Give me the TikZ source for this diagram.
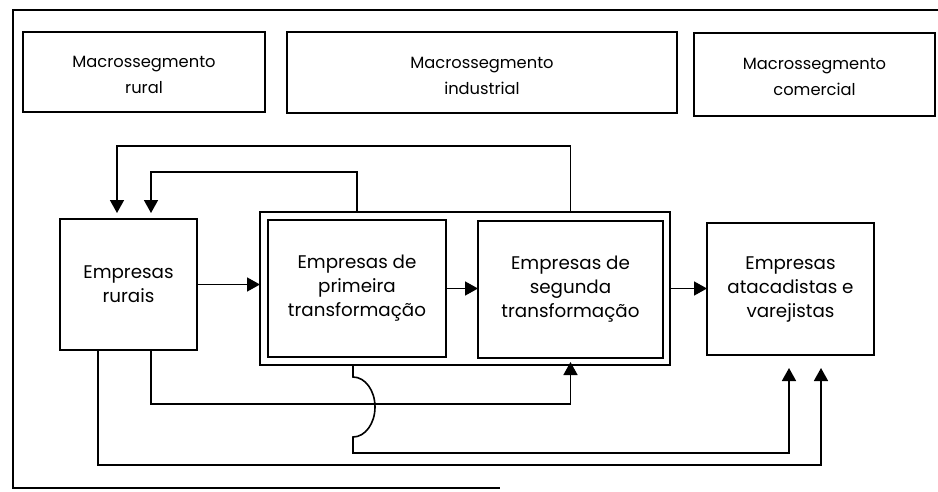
\documentclass[tikz,border=0pt]{standalone}
\usepackage{fontspec}
\setmainfont{Poppins}
\usetikzlibrary{arrows.meta}
\tikzset{
  topbox/.style={draw, line width=1.6pt, inner sep=0pt, outer sep=0pt},
  toptext/.style={align=center, font=\fontsize{16.3}{26}\selectfont},
  firmbox/.style={draw, line width=1.6pt, inner sep=0pt, outer sep=0pt, align=center,
    font=\fontsize{18.3}{24}\selectfont},
  conn/.style={line width=1.6pt, -{Triangle[width=14pt,length=13pt]}}
}
\begin{document}
\begin{tikzpicture}[x=1pt,y=-1pt]
\useasboundingbox (0,0) rectangle (938,491);
% outer frame (partly open, as in the reference)
\draw[line width=1.4pt] (938,10) -- (13,10) -- (13,488) -- (500,488);

% macro segments
\node[topbox, minimum width=242pt, minimum height=80pt] (rural) at (144,72) {};
\node[toptext] (ruralT) at (144,75) {Macrossegmento\\rural};
\node[topbox, minimum width=390pt, minimum height=81pt] (industrial) at (482,72.5) {};
\node[toptext] (industrialT) at (482,75.5) {Macrossegmento\\industrial};
\node[topbox, minimum width=241pt, minimum height=83pt] (comercial) at (814.5,74.5) {};
\node[toptext] (comercialT) at (814.5,77) {Macrossegmento\\comercial};

% firms
\node[firmbox, minimum width=137pt, minimum height=131pt] (rurais) at (128.5,284.5) {Empresas\\rurais};
\node[draw, line width=1.6pt, inner sep=0pt, outer sep=0pt, minimum width=410pt, minimum height=153pt] (cont) at (465,288.5) {};
\node[firmbox, minimum width=178pt, minimum height=137pt] (prim) at (357,288.5) {Empresas de\\primeira\\transformação};
\node[firmbox, minimum width=185pt, minimum height=137pt] (seg) at (570.5,289.5) {Empresas de\\segunda\\transformação};
\node[firmbox, minimum width=167pt, minimum height=132pt] (atac) at (790.5,289) {Empresas\\atacadistas e\\varejistas};

% helper coordinates
\coordinate (rurTopA) at ([xshift=22.5pt]rurais.north);
\coordinate (rurTopB) at ([xshift=-11.5pt]rurais.north);
\coordinate (rurBotA) at ([xshift=22.5pt]rurais.south);
\coordinate (rurBotB) at ([xshift=-30.5pt]rurais.south);
\coordinate (atacA) at ([xshift=-1.5pt]atac.south);
\coordinate (atacB) at ([xshift=30.5pt]atac.south);
\coordinate (contBotP) at ([xshift=-4pt]prim.south |- cont.south);

% forward flow
\draw[conn] (rurais.east) -- (rurais.east -| cont.west);
\draw[conn] (prim.east) -- (prim.east -| seg.west);
\draw[conn] (cont.east) -- (cont.east -| atac.west);

% feedback to rural firms
\draw[conn, shorten >=6pt] (prim.north |- cont.north) -- ++(0,-40) -| (rurTopA);
\draw[conn, shorten >=6pt] (seg.north |- cont.north) -- ++(0,-66) -| (rurTopB);

% lower flows
\draw[conn, shorten >=-3pt] (rurBotA) -- ++(0,54) -| (seg.south |- cont.south);
\draw[conn, shorten >=13pt] (contBotP) -- ++(0,12)
   arc[start angle=-90, end angle=90, x radius=22, y radius=30]
   -- ++(0,16) -| (atacA);
\draw[conn, shorten >=13pt] (rurBotB) -- ++(0,115) -| (atacB);
\end{tikzpicture}
\end{document}
